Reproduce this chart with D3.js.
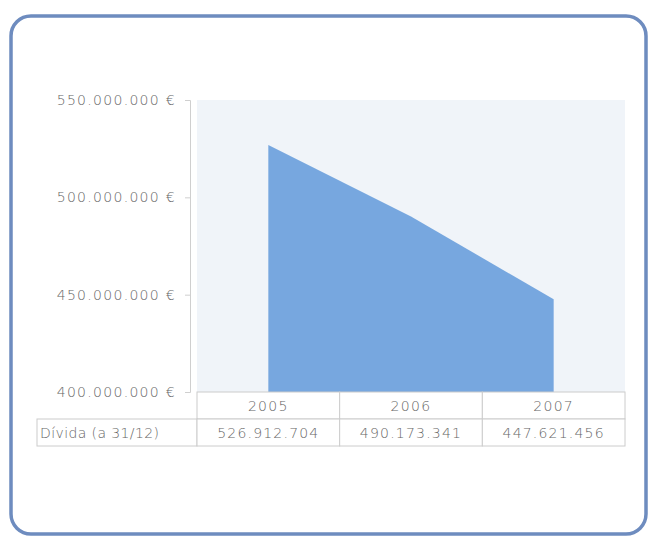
<!DOCTYPE html>
<html>
<head>
<meta charset="utf-8">
<script src="https://cdn.jsdelivr.net/npm/d3@7"></script>
<style>
  body { margin: 0; background: #fff; }
  text { font-family: "DejaVu Sans", sans-serif; fill: #666; }
</style>
</head>
<body>
<svg width="652" height="540"></svg>
<script>
const years = ["2005", "2006", "2007"];
const debt = [526912704, 490173341, 447621456];
const yTicks = [400000000, 450000000, 500000000, 550000000];
const rowLabel = "Dívida (a 31/12)";

const svg = d3.select("svg");

// outer rounded frame
svg.append("rect")
  .attr("x", 11).attr("y", 16)
  .attr("width", 635).attr("height", 518)
  .attr("rx", 20)
  .attr("fill", "#fff")
  .attr("stroke", "#6e8cbf")
  .attr("stroke-width", 3.5);

const plot = { left: 197, right: 625, top: 100, bottom: 392 };

const x = d3.scaleBand().domain(years).range([plot.left, plot.right]).padding(0);
const y = d3.scaleLinear().domain([400000000, 550000000]).range([plot.bottom, plot.top]);

const fmt = (v) => d3.format(",")(v).replace(/,/g, ".");

// plot background
svg.append("rect")
  .attr("x", plot.left).attr("y", plot.top)
  .attr("width", plot.right - plot.left).attr("height", plot.bottom - plot.top)
  .attr("fill", "#f0f4f9");

// area
const pts = years.map((yr, i) => ({ yr, v: debt[i] }));
const area = d3.area()
  .x((d) => x(d.yr) + x.bandwidth() / 2)
  .y0(plot.bottom)
  .y1((d) => y(d.v));
svg.append("path")
  .datum(pts)
  .attr("d", area)
  .attr("fill", "#77a7df");

// y axis
const yAxis = d3.axisLeft(y)
  .tickValues(yTicks)
  .tickSize(5)
  .tickPadding(9)
  .tickFormat((d) => fmt(d) + " €");
const yAxisG = svg.append("g")
  .attr("transform", `translate(${plot.left - 7},0)`)
  .call(yAxis);
yAxisG.select(".domain").attr("stroke", "#cfcfcf");
yAxisG.selectAll(".tick line").attr("stroke", "#cfcfcf");
yAxisG.selectAll(".tick text")
  .style("font-size", "14px")
  .style("font-weight", "200")
  .style("letter-spacing", "1.3px")
  .attr("fill", "#5e5e5e");

// data table
const rowH = 27;
const t0 = plot.bottom;
const labelX = 37;
const table = svg.append("g")
  .style("font-weight", "200");

// header cells
table.selectAll(".hcell")
  .data(years)
  .enter()
  .append("rect")
  .attr("x", (d) => x(d))
  .attr("y", t0)
  .attr("width", x.bandwidth())
  .attr("height", rowH)
  .attr("fill", "#fff")
  .attr("stroke", "#cccccc");

table.selectAll(".htext")
  .data(years)
  .enter()
  .append("text")
  .attr("x", (d) => x(d) + x.bandwidth() / 2)
  .attr("y", t0 + rowH / 2 + 5)
  .attr("text-anchor", "middle")
  .style("font-size", "14px")
  .style("letter-spacing", "1.3px")
  .text((d) => d);

// label cell
table.append("rect")
  .attr("x", labelX).attr("y", t0 + rowH)
  .attr("width", plot.left - labelX).attr("height", rowH)
  .attr("fill", "#fff").attr("stroke", "#cccccc");
table.append("text")
  .attr("x", labelX + 3)
  .attr("y", t0 + rowH * 1.5 + 5)
  .style("font-size", "14px")
  .style("letter-spacing", "0.4px")
  .text(rowLabel);

// value cells
table.selectAll(".vcell")
  .data(pts)
  .enter()
  .append("rect")
  .attr("x", (d) => x(d.yr))
  .attr("y", t0 + rowH)
  .attr("width", x.bandwidth())
  .attr("height", rowH)
  .attr("fill", "#fff")
  .attr("stroke", "#cccccc");

table.selectAll(".vtext")
  .data(pts)
  .enter()
  .append("text")
  .attr("x", (d) => x(d.yr) + x.bandwidth() / 2)
  .attr("y", t0 + rowH * 1.5 + 5)
  .attr("text-anchor", "middle")
  .style("font-size", "14px")
  .style("letter-spacing", "1.2px")
  .text((d) => fmt(d.v));
</script>
</body>
</html>
